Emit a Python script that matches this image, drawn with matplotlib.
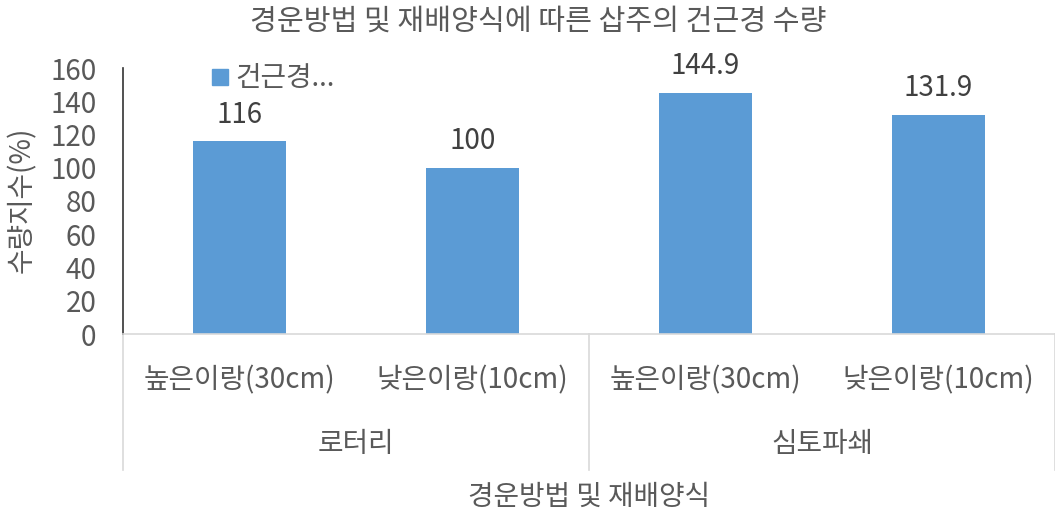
import matplotlib.pyplot as plt
import matplotlib.transforms as mtransforms
from matplotlib.patches import Rectangle

plt.rcParams['font.family'] = ['Noto Sans CJK KR', 'DejaVu Sans']

title = "경운방법 및 재배양식에 따른 삽주의 건근경 수량"
methods = ["로터리", "심토파쇄"]
ridges = ["높은이랑(30cm)", "낮은이랑(10cm)"]
values = [116, 100, 144.9, 131.9]
value_labels = ["116", "100", "144.9", "131.9"]
series_name = "건근경..."
y_label = "수량지수(%)"
x_label = "경운방법 및 재배양식"

BAR = "#5B9BD5"
TXT = "#595959"
LBL = "#404040"
SEP = "#D9D9D9"
FS = 20

fig = plt.figure(figsize=(10.55, 5.12), dpi=100)
ax = fig.add_axes([123 / 1055, 178 / 512, (1055 - 123) / 1055, 266 / 512])

x = list(range(len(values)))
ax.bar(x, values, width=0.4, color=BAR)
ax.set_xlim(-0.5, len(values) - 0.5)
ax.set_ylim(0, 160)
ax.set_yticks(range(0, 161, 20))
ax.tick_params(axis='y', length=0, labelsize=FS, colors=TXT, pad=19)
ax.tick_params(axis='x', length=0, labelbottom=False)

for s in ["top", "right"]:
    ax.spines[s].set_visible(False)
ax.spines["left"].set_color("#333333")
ax.spines["left"].set_linewidth(1.2)
ax.spines["bottom"].set_color(SEP)
ax.spines["bottom"].set_linewidth(1.2)

for xi, v, t in zip(x, values, value_labels):
    ax.text(xi, v + 7, t, ha="center", va="bottom", fontsize=FS, color=LBL)

# multi-level category axis
trans = mtransforms.blended_transform_factory(ax.transData, ax.transAxes)
px = 1 / 266
for i, r in enumerate(ridges * len(methods)):
    ax.text(i, -46 * px, r, transform=trans, ha="center", va="center",
            fontsize=FS, color=TXT)
for j, m in enumerate(methods):
    cx = j * len(ridges) + (len(ridges) - 1) / 2
    ax.text(cx, -110 * px, m, transform=trans, ha="center", va="center",
            fontsize=FS, color=TXT)
for k in range(len(methods) + 1):
    xs = k * len(ridges) - 0.5
    ax.plot([xs, xs], [0, -136 * px], transform=trans, color=SEP,
            lw=1.2, clip_on=False)

ax.text(0.5, -163 * px, x_label, transform=ax.transAxes, ha="center",
        va="center", fontsize=FS, color=TXT)
fig.text(22 / 1055, 1 - 200 / 512, y_label, rotation=90, ha="center",
         va="center", fontsize=FS, color=TXT)
fig.text(538 / 1055, 1 - 22 / 512, title, ha="center", va="center",
         fontsize=21, color=TXT)

# legend
fig.patches.append(Rectangle((212 / 1055, 1 - 85 / 512), 16 / 1055, 16 / 512,
                             transform=fig.transFigure, color=BAR))
fig.text(235 / 1055, 1 - 78 / 512, series_name, ha="left", va="center",
         fontsize=FS, color=TXT)

fig.savefig("out.png", dpi=100)
